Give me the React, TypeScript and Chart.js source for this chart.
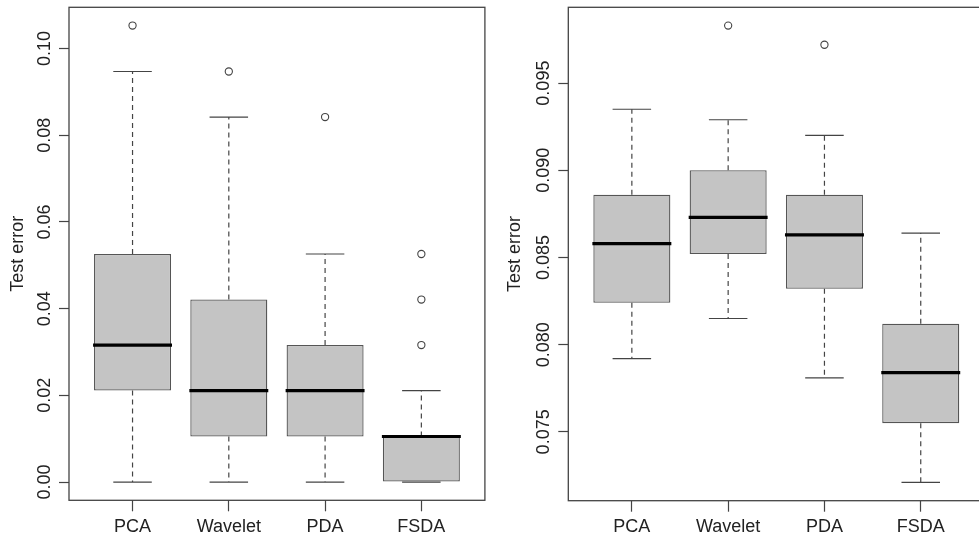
import React, { useEffect, useRef } from "react";
import { Chart, registerables } from "chart.js";

Chart.register(...registerables);

// ---------- data ----------
const categories = ["PCA", "Wavelet", "PDA", "FSDA"];

// left panel
const leftLower = [0, 0, 0, 0];
const leftQ1 = [0.0211, 0.0105, 0.0105, 0];
const leftMedian = [0.0316, 0.0211, 0.0211, 0.0105];
const leftQ3 = [0.0526, 0.0421, 0.0316, 0.0105];
const leftUpper = [0.0947, 0.0842, 0.0526, 0.0211];
const leftOutliers = [[0.1053], [0.0947], [0.0842], [0.0316, 0.0421, 0.0526]];
const leftTickValues = [0, 0.02, 0.04, 0.06, 0.08, 0.1];
const leftTickLabels = ["0.00", "0.02", "0.04", "0.06", "0.08", "0.10"];

// right panel
const rightLower = [0.0792, 0.0815, 0.0781, 0.0721];
const rightQ1 = [0.0824, 0.0852, 0.0832, 0.0755];
const rightMedian = [0.0858, 0.0873, 0.0863, 0.0784];
const rightQ3 = [0.0886, 0.09, 0.0886, 0.0812];
const rightUpper = [0.0935, 0.0929, 0.092, 0.0864];
const rightOutliers = [[], [0.0983], [0.0972], []];
const rightTickValues = [0.075, 0.08, 0.085, 0.09, 0.095];
const rightTickLabels = ["0.075", "0.080", "0.085", "0.090", "0.095"];

const yTitle = "Test error";

// ---------- helpers ----------
type Panel = {
  lower: number[];
  q1: number[];
  median: number[];
  q3: number[];
  upper: number[];
  outliers: number[][];
  tickValues: number[];
  tickLabels: string[];
};

type Layout = {
  yWidth: number;
  xHeight: number;
  padTop: number;
  padRight: number;
  tickPad: number;
  titlePad: number;
};

const FONT = "'Liberation Sans', Arial, Helvetica, sans-serif";
const TEXT = "#222";
const LINE = "#444";

function whiskerPoints(p: Panel) {
  const pts: any[] = [];
  categories.forEach((_, i) => {
    const x = i + 1;
    pts.push({ x, y: p.q3[i] }, { x, y: p.upper[i] }, { x, y: null });
    pts.push({ x, y: p.q1[i] }, { x, y: p.lower[i] }, { x, y: null });
  });
  return pts;
}

function hSegments(vals: number[][], half: number) {
  const pts: any[] = [];
  categories.forEach((_, i) => {
    const x = i + 1;
    vals.forEach((arr) => {
      pts.push({ x: x - half, y: arr[i] }, { x: x + half, y: arr[i] }, { x: x + half, y: null });
    });
  });
  return pts;
}

const framePlugin = {
  id: "frame",
  afterDraw(chart: any) {
    const { ctx, chartArea } = chart;
    const { left, top, right, bottom } = chartArea;
    ctx.save();
    ctx.strokeStyle = LINE;
    ctx.lineWidth = 1.3;
    ctx.strokeRect(left, top, right - left, bottom - top);
    ctx.restore();
  },
};

function buildConfig(p: Panel, l: Layout): any {
  const all = [...p.lower, ...p.upper, ...p.outliers.flat()];
  const dMin = Math.min(...all);
  const dMax = Math.max(...all);
  const ext = (dMax - dMin) * 0.04;

  const outlierPts: any[] = [];
  p.outliers.forEach((arr, i) => arr.forEach((v) => outlierPts.push({ x: i + 1, y: v })));

  return {
    type: "bar",
    data: {
      datasets: [
        {
          type: "bar",
          data: categories.map((_, i) => ({ x: i + 1, y: [p.q1[i], p.q3[i]] })),
          backgroundColor: "#c4c4c4",
          borderColor: "#555",
          borderWidth: 1.3,
          borderSkipped: false,
          barPercentage: 0.8,
          categoryPercentage: 1,
          order: 4,
        },
        {
          type: "line",
          data: whiskerPoints(p),
          borderColor: LINE,
          borderWidth: 1.2,
          borderDash: [5, 4],
          pointRadius: 0,
          pointHitRadius: 0,
          spanGaps: false,
          fill: false,
          order: 3,
        },
        {
          type: "line",
          data: hSegments([p.lower, p.upper], 0.2),
          borderColor: LINE,
          borderWidth: 1.2,
          pointRadius: 0,
          pointHitRadius: 0,
          spanGaps: false,
          fill: false,
          order: 2,
        },
        {
          type: "line",
          data: hSegments([p.median], 0.41),
          borderColor: "#000",
          borderWidth: 3.2,
          pointRadius: 0,
          pointHitRadius: 0,
          spanGaps: false,
          fill: false,
          order: 1,
        },
        {
          type: "scatter",
          data: outlierPts,
          pointStyle: "circle",
          pointRadius: 3.6,
          pointBorderWidth: 1.1,
          pointBorderColor: LINE,
          pointBackgroundColor: "rgba(0,0,0,0)",
          showLine: false,
          order: 0,
        },
      ],
    },
    options: {
      animation: false,
      responsive: false,
      maintainAspectRatio: false,
      layout: { padding: { top: l.padTop, right: l.padRight, left: 0, bottom: 0 } },
      plugins: { legend: { display: false }, tooltip: { enabled: false } },
      scales: {
        x: {
          type: "linear",
          min: 0.34,
          max: 4.66,
          offset: false,
          afterBuildTicks: (scale: any) => {
            scale.ticks = categories.map((_, i) => ({ value: i + 1 }));
          },
          afterFit: (scale: any) => {
            scale.height = l.xHeight;
          },
          border: { display: false },
          grid: {
            offset: false,
            drawOnChartArea: false,
            drawTicks: true,
            tickLength: 11,
            tickColor: LINE,
            tickWidth: 1.2,
          },
          ticks: {
            autoSkip: false,
            maxRotation: 0,
            minRotation: 0,
            padding: 5,
            color: TEXT,
            font: { family: FONT, size: 18 },
            callback: (_v: any, i: number) => categories[i],
          },
        },
        y: {
          type: "linear",
          min: dMin - ext,
          max: dMax + ext,
          afterBuildTicks: (scale: any) => {
            scale.ticks = p.tickValues.map((v) => ({ value: v }));
          },
          afterFit: (scale: any) => {
            scale.width = l.yWidth;
          },
          border: { display: false },
          grid: {
            offset: false,
            drawOnChartArea: false,
            drawTicks: true,
            tickLength: 10,
            tickColor: LINE,
            tickWidth: 1.2,
          },
          ticks: {
            autoSkip: false,
            minRotation: 90,
            maxRotation: 90,
            crossAlign: "center",
            padding: l.tickPad,
            color: TEXT,
            font: { family: FONT, size: 18 },
            callback: (_v: any, i: number) => p.tickLabels[i],
          },
          title: {
            display: true,
            text: yTitle,
            color: TEXT,
            font: { family: FONT, size: 18 },
            padding: { top: l.titlePad, bottom: 0 },
          },
        },
      },
    },
    plugins: [framePlugin],
  };
}

const leftPanel: Panel = {
  lower: leftLower,
  q1: leftQ1,
  median: leftMedian,
  q3: leftQ3,
  upper: leftUpper,
  outliers: leftOutliers,
  tickValues: leftTickValues,
  tickLabels: leftTickLabels,
};

const rightPanel: Panel = {
  lower: rightLower,
  q1: rightQ1,
  median: rightMedian,
  q3: rightQ3,
  upper: rightUpper,
  outliers: rightOutliers,
  tickValues: rightTickValues,
  tickLabels: rightTickLabels,
};

function BoxChart({ panel, layout, width, height }: { panel: Panel; layout: Layout; width: number; height: number }) {
  const ref = useRef<HTMLCanvasElement | null>(null);
  useEffect(() => {
    if (!ref.current) return;
    const chart = new Chart(ref.current, buildConfig(panel, layout));
    return () => chart.destroy();
  }, []);
  return <canvas ref={ref} width={width} height={height} style={{ display: "block", width, height }} />;
}

export default function App() {
  return (
    <div
      style={{
        position: "fixed",
        left: 0,
        top: 0,
        width: 979,
        height: 539,
        overflow: "hidden",
        background: "#fff",
      }}
    >
      <div style={{ position: "absolute", left: 0, top: 0 }}>
        <BoxChart
          panel={leftPanel}
          layout={{ yWidth: 69, xHeight: 38.7, padTop: 7.3, padRight: 5, tickPad: -3.5, titlePad: 7 }}
          width={490}
          height={539}
        />
      </div>
      <div style={{ position: "absolute", left: 490, top: 0 }}>
        <BoxChart
          panel={rightPanel}
          layout={{ yWidth: 78.3, xHeight: 38.3, padTop: 7.3, padRight: 5.7, tickPad: -8.5, titlePad: 14 }}
          width={500}
          height={539}
        />
      </div>
    </div>
  );
}
